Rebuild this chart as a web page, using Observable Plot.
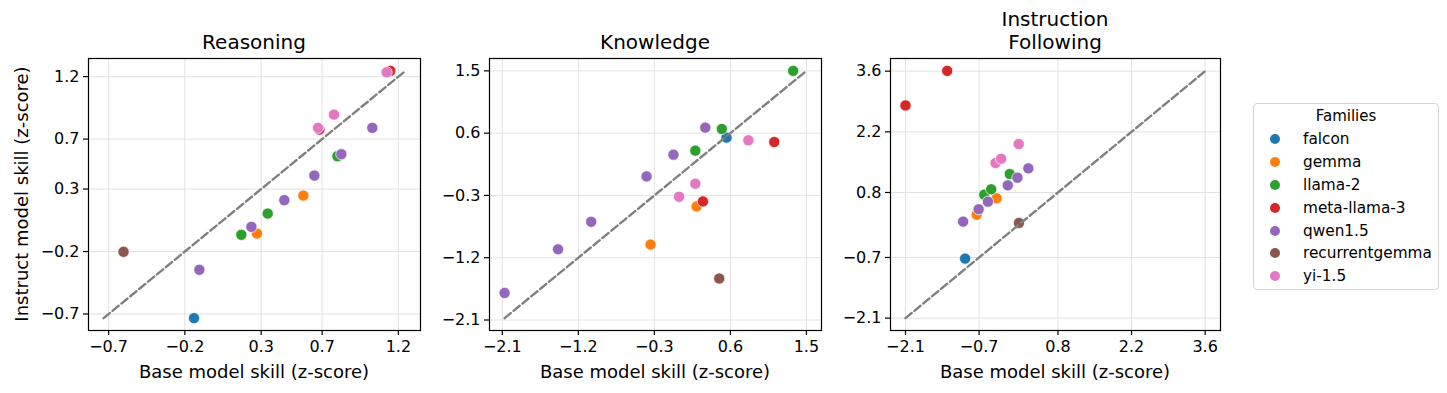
<!DOCTYPE html>
<html>
<head>
<meta charset="utf-8">
<script src="https://cdn.jsdelivr.net/npm/d3@7"></script>
<script src="https://cdn.jsdelivr.net/npm/@observablehq/plot@0.6"></script>
<style>
  body { margin: 0; background: #fff; }
  #fig { position: relative; width: 1447px; height: 393px; font-family: "DejaVu Sans", sans-serif; color: #000; overflow: hidden; background: #fff; }
  .panel { position: absolute; top: 0; }
  .title { position: absolute; font-size: 20px; line-height: 23px; text-align: center; transform: translateX(-50%); white-space: pre; }
  .xlabel { position: absolute; font-size: 18px; line-height: 21px; transform: translateX(-50%); white-space: nowrap; top: 361px; }
  .ylabel { position: absolute; font-size: 18px; line-height: 21px; left: 21px; top: 193.5px; transform: translate(-50%, -50%) rotate(-90deg); white-space: nowrap; }
  .legend { position: absolute; left: 1253px; top: 103px; width: 186px; height: 187px; border: 1px solid #d4d4d4; border-radius: 4px; box-sizing: border-box; background: #fff; }
  .legend .lt { position: absolute; left: 0; right: 0; text-align: center; font-size: 15px; line-height: 18px; top: 3px; }
  .legend .row { position: absolute; left: 0; height: 20px; font-size: 15.3px; line-height: 20px; }
  .legend .sw { position: absolute; left: 16px; top: 5px; width: 10px; height: 10px; border-radius: 50%; }
  .legend .lab { position: absolute; left: 49px; top: 0; white-space: nowrap; }
</style>
</head>
<body>
<div id="fig"></div>
<script>
// ---- data ----
const families = ["falcon", "gemma", "llama-2", "meta-llama-3", "qwen1.5", "recurrentgemma", "yi-1.5"];
const familyColors = ["#1f77b4", "#ff7f0e", "#2ca02c", "#d62728", "#9467bd", "#8c564b", "#e377c2"];

const pointFamily = [
  "falcon",
  "gemma", "gemma",
  "llama-2", "llama-2", "llama-2",
  "meta-llama-3", "meta-llama-3",
  "qwen1.5", "qwen1.5", "qwen1.5", "qwen1.5", "qwen1.5", "qwen1.5",
  "recurrentgemma",
  "yi-1.5", "yi-1.5", "yi-1.5"
];

const reasoningBase     = [-0.14, 0.273, 0.577, 0.170, 0.343, 0.80, 0.682, 1.147, -0.105, 0.236, 0.452, 0.649, 0.826, 1.029, -0.602, 0.673, 0.778, 1.123];
const reasoningInstruct = [-0.733, -0.056, 0.248, -0.066, 0.104, 0.563, 0.776, 1.246, -0.346, -0.002, 0.211, 0.408, 0.579, 0.79, -0.202, 0.79, 0.896, 1.235];

const knowledgeBase     = [0.554, -0.345, 0.2, 0.185, 0.499, 1.343, 0.275, 1.119, -2.073, -1.44, -1.048, -0.392, -0.074, 0.303, 0.468, -0.008, 0.185, 0.813];
const knowledgeInstruct = [0.535, -1.01, -0.459, 0.347, 0.66, 1.5, -0.387, 0.472, -1.709, -1.078, -0.681, -0.025, 0.289, 0.68, -1.5, -0.319, -0.131, 0.497];

const instructionBase     = [-0.966, -0.746, -0.368, -0.602, -0.47, -0.116, -2.1, -1.307, -1.004, -0.708, -0.532, -0.154, 0.029, 0.237, 0.059, -0.386, -0.281, 0.054];
const instructionInstruct = [-0.726, 0.288, 0.666, 0.749, 0.874, 1.226, 2.809, 3.607, 0.127, 0.413, 0.588, 0.966, 1.141, 1.357, 0.097, 1.48, 1.579, 1.918];

const reasoningTicks   = [-0.7, -0.2, 0.3, 0.7, 1.2];
const knowledgeTicks   = [-2.1, -1.2, -0.3, 0.6, 1.5];
const instructionTicks = [-2.1, -0.7, 0.8, 2.2, 3.6];

const panelTitles = ["Reasoning", "Knowledge", "Instruction\nFollowing"];
const xLabel = "Base model skill (z-score)";
const yLabel = "Instruct model skill (z-score)";
const legendTitle = "Families";

// ---- drawing ----
const fig = document.getElementById("fig");
const fmt = d3.format(".1f");

function makePanel(base, instruct, ticks, layout) {
  const data = base.map((b, i) => ({ base: b, instruct: instruct[i], family: pointFamily[i] }));
  const all = base.concat(instruct);
  const lo = d3.min(all), hi = d3.max(all), pad = 0.05 * (hi - lo);
  const dom = [lo - pad, hi + pad];
  const gridStyle = { stroke: "#e2e2e2", strokeOpacity: 1, strokeWidth: 1 };
  return Plot.plot({
    width: layout.width,
    height: 393,
    marginLeft: layout.ml,
    marginRight: layout.mr,
    marginTop: 58,
    marginBottom: 63,
    x: { domain: dom },
    y: { domain: dom },
    color: { domain: families, range: familyColors },
    style: { fontFamily: "DejaVu Sans", fontSize: "16px", color: "black", background: "transparent", overflow: "visible" },
    marks: [
      Plot.gridX(ticks, gridStyle),
      Plot.gridY(ticks, gridStyle),
      Plot.dot(data, { x: "base", y: "instruct", fill: "family", r: 5.6, stroke: "white", strokeWidth: 0.7 }),
      Plot.line([[lo, lo], [hi, hi]], { stroke: "#808080", strokeWidth: 2.4, strokeDasharray: "8,3.5" }),
      Plot.frame({ stroke: "black", strokeWidth: 1.2 }),
      Plot.axisX(ticks, { tickSize: 5, tickPadding: 5, fontSize: 16, tickFormat: fmt, label: null, strokeWidth: 1.2 }),
      Plot.axisY(ticks, { tickSize: 5, tickPadding: 4, fontSize: 16, tickFormat: fmt, label: null, strokeWidth: 1.2 })
    ]
  });
}

const layouts = [
  { left: 0,   width: 430, ml: 88, mr: 10 },
  { left: 430, width: 400, ml: 59, mr: 9 },
  { left: 830, width: 400, ml: 60, mr: 10 }
];
const panelData = [
  [reasoningBase, reasoningInstruct, reasoningTicks],
  [knowledgeBase, knowledgeInstruct, knowledgeTicks],
  [instructionBase, instructionInstruct, instructionTicks]
];

panelData.forEach(([b, y, t], i) => {
  const L = layouts[i];
  const svg = makePanel(b, y, t, L);
  const wrap = document.createElement("div");
  wrap.className = "panel";
  wrap.style.left = L.left + "px";
  wrap.appendChild(svg);
  fig.appendChild(wrap);

  const cx = L.left + L.ml + (L.width - L.ml - L.mr) / 2;
  const lines = panelTitles[i].split("\n").length;
  const title = document.createElement("div");
  title.className = "title";
  title.textContent = panelTitles[i];
  title.style.left = cx + "px";
  title.style.top = (31 - 23 * (lines - 1)) + "px";
  fig.appendChild(title);

  const xl = document.createElement("div");
  xl.className = "xlabel";
  xl.textContent = xLabel;
  xl.style.left = cx + "px";
  fig.appendChild(xl);
});

const yl = document.createElement("div");
yl.className = "ylabel";
yl.textContent = yLabel;
fig.appendChild(yl);

const legend = document.createElement("div");
legend.className = "legend";
const lt = document.createElement("div");
lt.className = "lt";
lt.textContent = legendTitle;
legend.appendChild(lt);
families.forEach((f, i) => {
  const row = document.createElement("div");
  row.className = "row";
  row.style.top = (25.3 + 22.8 * i) + "px";
  const sw = document.createElement("div");
  sw.className = "sw";
  sw.style.background = familyColors[i];
  const lab = document.createElement("div");
  lab.className = "lab";
  lab.textContent = f;
  row.appendChild(sw);
  row.appendChild(lab);
  legend.appendChild(row);
});
fig.appendChild(legend);
</script>
</body>
</html>
